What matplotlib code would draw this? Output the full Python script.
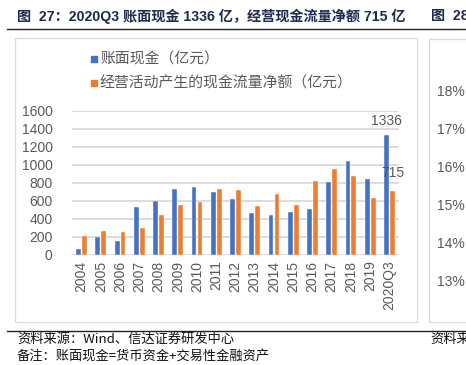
import matplotlib
matplotlib.use("Agg")
import matplotlib.pyplot as plt
import numpy as np
from matplotlib.patches import Rectangle
from matplotlib.lines import Line2D

categories = ["2004", "2005", "2006", "2007", "2008", "2009", "2010", "2011", "2012",
              "2013", "2014", "2015", "2016", "2017", "2018", "2019", "2020Q3"]
book_cash = [71, 201, 153, 533, 600, 737, 760, 700, 622, 466, 440, 477, 510, 812, 1047, 849, 1336]
op_cash_flow = [212, 264, 253, 298, 443, 555, 592, 730, 719, 544, 674, 555, 823, 953, 883, 633, 715]
series_names = ["账面现金（亿元）", "经营活动产生的现金流量净额（亿元）"]
yticks = [0, 200, 400, 600, 800, 1000, 1200, 1400, 1600]
right_ticks = ["18%", "17%", "16%", "15%", "14%", "13%"]

W, H = 466, 365
BLUE = "#4472C4"
ORANGE = "#ED7D31"
GRID = "#D9D9D9"
TXT = "#595959"
CJK = ["Noto Sans CJK SC", "DejaVu Sans"]
LAT = ["Liberation Sans", "Noto Sans CJK SC", "DejaVu Sans"]

plt.rcParams["font.family"] = CJK

fig = plt.figure(figsize=(W / 100, H / 100), dpi=100)

def fx(x):
    return x / W

def fy(y):
    return 1 - y / H

# axes: left 72, right 399, top 111, bottom 255 (pixels)
ax = fig.add_axes([fx(72), fy(255), (399 - 72) / W, (255 - 111) / H])
x = np.arange(len(categories))
bw = 0.25
off = 0.155
ax.bar(x - off, book_cash, bw, color=BLUE, edgecolor="white", linewidth=0.3, zorder=3)
ax.bar(x + off, op_cash_flow, bw, color=ORANGE, edgecolor="white", linewidth=0.3, zorder=3)
ax.set_xlim(-0.5, len(categories) - 0.5)
ax.set_ylim(0, 1600)
ax.set_yticks(yticks)
ax.set_yticklabels([str(v) for v in yticks], family=LAT, fontsize=10, color=TXT)
ax.set_xticks(x)
ax.set_xticklabels(categories, rotation=90, family=LAT, fontsize=10, color=TXT)
ax.tick_params(length=0, pad=4)
ax.tick_params(axis="y", pad=14)
ax.grid(axis="y", color=GRID, linewidth=1.3, zorder=0)
for s in ax.spines.values():
    s.set_visible(False)
ax.set_facecolor("none")

# data labels for last category
ax.annotate(str(book_cash[-1]), (x[-1] - off, book_cash[-1]), xytext=(0, 5),
            textcoords="offset points", ha="center", va="bottom",
            family=LAT, fontsize=10, color=TXT)
ax.annotate(str(op_cash_flow[-1]), (x[-1] + off, op_cash_flow[-1]), xytext=(0, 8),
            textcoords="offset points", ha="center", va="bottom",
            family=LAT, fontsize=10, color=TXT)

# legend (manual)
for i, (name, col) in enumerate(zip(series_names, [BLUE, ORANGE])):
    yy = 59 + i * 24
    fig.patches.append(Rectangle((fx(91), fy(yy + 3)), 6 / W, 6 / H,
                                 transform=fig.transFigure, color=col))
    fig.text(fx(100), fy(yy), name, fontsize=10.7, color=TXT, va="center", ha="left")

# chart frames
fig.patches.append(Rectangle((fx(15), fy(322)), (417 - 15) / W, (322 - 38) / H,
                             transform=fig.transFigure, fill=False,
                             edgecolor="#D9D9D9", linewidth=0.9))
fig.patches.append(Rectangle((fx(429), fy(322)), (470 - 429) / W, (322 - 39) / H,
                             transform=fig.transFigure, fill=False,
                             edgecolor="#D9D9D9", linewidth=0.9))

# horizontal rules
fig.add_artist(Line2D([fx(7), 1], [fy(28.5), fy(28.5)], color="#222222", linewidth=1.0,
                      transform=fig.transFigure))
fig.add_artist(Line2D([fx(7), 1], [fy(330.5), fy(330.5)], color="#222222", linewidth=1.0,
                      transform=fig.transFigure))

# title
TITLE_C = "#1F2A4F"
fig.text(fx(17), fy(16), "图  27：2020Q3 账面现金 1336 亿，经营现金流量净额 715 亿",
         fontsize=10.2, fontweight="bold", color=TITLE_C, va="center", ha="left",
         family=LAT)
fig.text(fx(431), fy(16), "图  28", fontsize=10.2, fontweight="bold", color=TITLE_C,
         va="center", ha="left", family=LAT)

# right partial chart tick labels
for i, t in enumerate(right_ticks):
    fig.text(fx(451), fy(92 + i * 38), t, fontsize=10, color=TXT, ha="center",
             va="center", family=LAT)

# footer
fig.text(fx(17), fy(339), "资料来源：Wind、信达证券研发中心", fontsize=9.5, color="#111111",
         va="center", ha="left", style="italic")
fig.text(fx(17), fy(356), "备注：账面现金=货币资金+交易性金融资产", fontsize=9.5, color="#111111",
         va="center", ha="left", style="italic")
fig.text(fx(430), fy(339), "资料来", fontsize=9.5, color="#111111",
         va="center", ha="left", style="italic")

fig.savefig("out.png", dpi=100)
